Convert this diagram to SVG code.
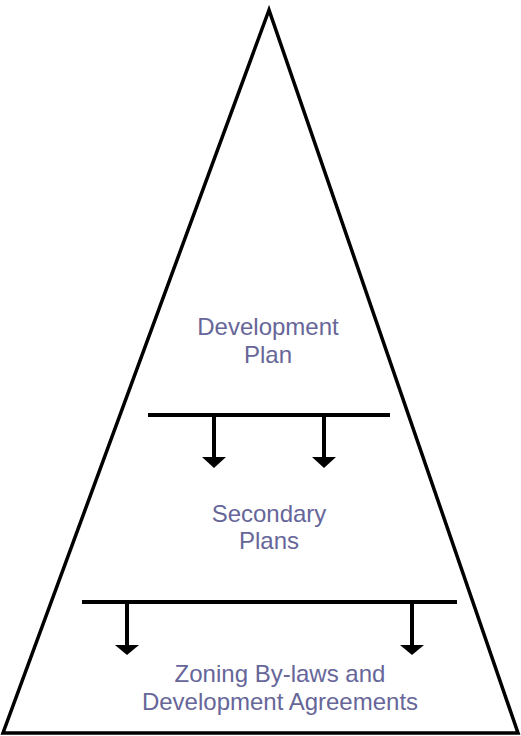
<svg xmlns="http://www.w3.org/2000/svg" width="521" height="736" viewBox="0 0 521 736">
<style>
.t{font-family:"Liberation Sans",Arial,sans-serif;font-size:24px;fill:#666699;text-anchor:middle}
.ln{stroke:#000;stroke-width:4;fill:none}
.ah{fill:#000}
</style>
<rect width="521" height="736" fill="#fff"/>
<g id="pyramid">
<polygon points="269,10 3,733 518,733" fill="none" stroke="#000" stroke-width="3.5"/>
</g>
<g id="development-plan">
<text class="t" x="268" y="335">Development</text>
<text class="t" x="268" y="363">Plan</text>
</g>
<g id="secondary-plans">
<text class="t" x="269" y="522">Secondary</text>
<text class="t" x="269" y="549">Plans</text>
</g>
<g id="zoning">
<text class="t" x="280" y="682">Zoning By-laws and</text>
<text class="t" x="280" y="710">Development Agreements</text>
</g>
<g id="connectors">
<line class="ln" x1="148" y1="415" x2="390" y2="415"/>
<line class="ln" x1="214" y1="415" x2="214" y2="458"/>
<path class="ah" d="M202,457 L226,457 L214,468 Z"/>
<line class="ln" x1="324" y1="415" x2="324" y2="458"/>
<path class="ah" d="M312,457 L336,457 L324,468 Z"/>
<line class="ln" x1="82" y1="602" x2="457" y2="602"/>
<line class="ln" x1="127" y1="602" x2="127" y2="646"/>
<path class="ah" d="M115,645 L139,645 L127,655 Z"/>
<line class="ln" x1="412" y1="602" x2="412" y2="646"/>
<path class="ah" d="M400,645 L424,645 L412,655 Z"/>
</g>
</svg>
